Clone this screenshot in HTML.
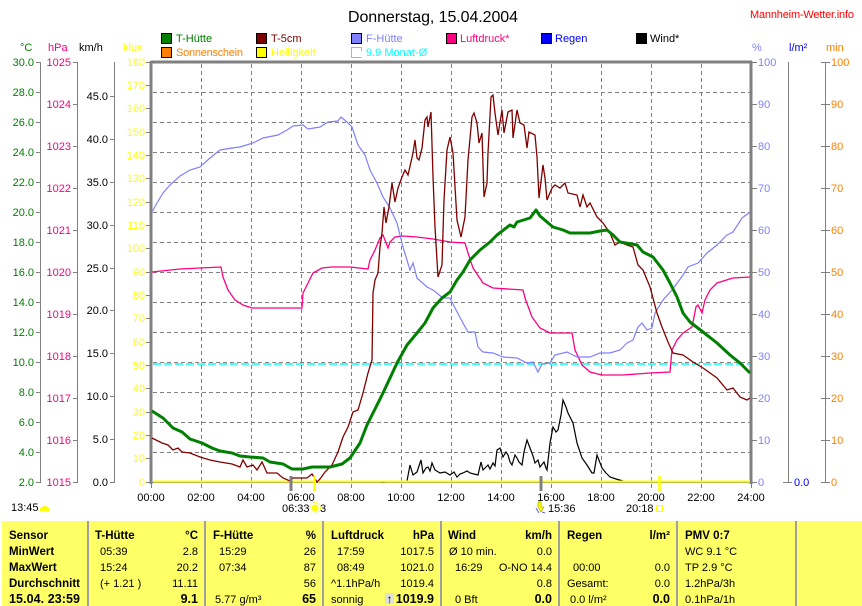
<!DOCTYPE html>
<html><head><meta charset="utf-8">
<style>
html,body{margin:0;padding:0;background:#fff;}
svg{display:block;}
text{font-family:"Liberation Sans",Arial,sans-serif;}
</style></head>
<body>
<svg width="862" height="606" viewBox="0 0 862 606" xmlns="http://www.w3.org/2000/svg">
<rect x="0" y="0" width="862" height="606" fill="#fff"/>

<!-- Title -->
<text x="348" y="22" font-size="16" fill="#000" textLength="170">Donnerstag, 15.04.2004</text>
<text x="750" y="18" font-size="11" fill="#ff0000" textLength="104">Mannheim-Wetter.info</text>

<!-- Legend -->
<g font-size="11">
<rect x="161.5" y="33.5" width="10" height="10" fill="#008000" stroke="#000"/>
<text x="176" y="42" fill="#008000">T-Hütte</text>
<rect x="256.5" y="33.5" width="10" height="10" fill="#800000" stroke="#000"/>
<text x="271" y="42" fill="#800000">T-5cm</text>
<rect x="351.5" y="33.5" width="10" height="10" fill="#8080ff" stroke="#000"/>
<text x="366" y="42" fill="#8080ff">F-Hütte</text>
<rect x="446.5" y="33.5" width="10" height="10" fill="#ff0080" stroke="#000"/>
<text x="460" y="42" fill="#ff0080">Luftdruck*</text>
<rect x="541.5" y="33.5" width="10" height="10" fill="#0000ff" stroke="#000"/>
<text x="555" y="42" fill="#0000ff">Regen</text>
<rect x="636.5" y="33.5" width="10" height="10" fill="#000" stroke="#000"/>
<text x="650" y="42" fill="#000">Wind*</text>
<rect x="161.5" y="47.5" width="10" height="10" fill="#ff8000" stroke="#000"/>
<text x="176" y="56" fill="#ff8000" textLength="67">Sonnenschein</text>
<rect x="256.5" y="47.5" width="10" height="10" fill="#ffff00" stroke="#000"/>
<text x="271" y="56" fill="#ffff00">Helligkeit</text>
<path d="M361.5 47.5 H351.5 V57.5 H361.5 M358 47.5 H361.5 V51" fill="none" stroke="#00ffff"/>
<text x="366" y="56" fill="#00ffff">9.9 Monat-Ø</text>
</g>

<!-- Axis titles -->
<g font-size="11">
<text x="20" y="51" fill="#008000">°C</text>
<text x="48" y="51" fill="#ff0080">hPa</text>
<text x="79" y="51" fill="#000">km/h</text>
<text x="123" y="51" fill="#ffff00">klux</text>
<text x="752" y="51" fill="#8080ff">%</text>
<text x="789" y="51" fill="#0000ff">l/m²</text>
<text x="826" y="51" fill="#ff8000">min</text>
</g>

<!-- Left axes lines -->
<g stroke="#808080" stroke-width="1" shape-rendering="crispEdges" fill="none">
<line x1="40.5" y1="62" x2="40.5" y2="483"/>
<line x1="77.5" y1="62" x2="77.5" y2="483"/>
<line x1="114.5" y1="62" x2="114.5" y2="483"/>
<line x1="788.5" y1="62" x2="788.5" y2="483"/>
<line x1="825.5" y1="62" x2="825.5" y2="483"/>
<!-- °C ticks -->
<path d="M36 62.5H40M36 92.5H40M36 122.5H40M36 152.5H40M36 182.5H40M36 212.5H40M36 242.5H40M36 272.5H40M36 302.5H40M36 332.5H40M36 362.5H40M36 392.5H40M36 422.5H40M36 452.5H40M36 482.5H40"/>
<!-- hPa ticks -->
<path d="M73 62.5H77M73 104.5H77M73 146.5H77M73 188.5H77M73 230.5H77M73 272.5H77M73 314.5H77M73 356.5H77M73 398.5H77M73 440.5H77M73 482.5H77"/>
<!-- km/h ticks -->
<path d="M110 96.5H114M110 139.5H114M110 182.5H114M110 225.5H114M110 268.5H114M110 310.5H114M110 353.5H114M110 396.5H114M110 439.5H114M110 482.5H114"/>
<!-- klux ticks -->
<path d="M146 62.5H151M146 85.5H151M146 108.5H151M146 132.5H151M146 155.5H151M146 178.5H151M146 202.5H151M146 225.5H151M146 248.5H151M146 272.5H151M146 295.5H151M146 318.5H151M146 342.5H151M146 365.5H151M146 388.5H151M146 412.5H151M146 435.5H151M146 458.5H151M146 482.5H151"/>
<!-- % ticks -->
<path d="M752 62.5H757M752 104.5H757M752 146.5H757M752 188.5H757M752 230.5H757M752 272.5H757M752 314.5H757M752 356.5H757M752 398.5H757M752 440.5H757M752 482.5H757"/>
<!-- l/m2 tick -->
<path d="M783 482.5H792"/>
<!-- min ticks -->
<path d="M821 62.5H830M821 104.5H830M821 146.5H830M821 188.5H830M821 230.5H830M821 272.5H830M821 314.5H830M821 356.5H830M821 398.5H830M821 440.5H830M821 482.5H830"/>
</g>

<!-- Left axis labels -->
<g font-size="11" text-anchor="end">
<g fill="#008000">
<text x="34" y="66">30.0</text><text x="34" y="96">28.0</text><text x="34" y="126">26.0</text><text x="34" y="156">24.0</text><text x="34" y="186">22.0</text><text x="34" y="216">20.0</text><text x="34" y="246">18.0</text><text x="34" y="276">16.0</text><text x="34" y="306">14.0</text><text x="34" y="336">12.0</text><text x="34" y="366">10.0</text><text x="34" y="396">8.0</text><text x="34" y="426">6.0</text><text x="34" y="456">4.0</text><text x="34" y="486">2.0</text>
</g>
<g fill="#ff0080">
<text x="71" y="66">1025</text><text x="71" y="108">1024</text><text x="71" y="150">1023</text><text x="71" y="192">1022</text><text x="71" y="234">1021</text><text x="71" y="276">1020</text><text x="71" y="318">1019</text><text x="71" y="360">1018</text><text x="71" y="402">1017</text><text x="71" y="444">1016</text><text x="71" y="486">1015</text>
</g>
<g fill="#000">
<text x="108" y="100">45.0</text><text x="108" y="143">40.0</text><text x="108" y="186">35.0</text><text x="108" y="229">30.0</text><text x="108" y="272">25.0</text><text x="108" y="314">20.0</text><text x="108" y="357">15.0</text><text x="108" y="400">10.0</text><text x="108" y="443">5.0</text><text x="108" y="486">0.0</text>
</g>
<g fill="#ffff00">
<text x="145" y="66">180</text><text x="145" y="89">170</text><text x="145" y="112">160</text><text x="145" y="136">150</text><text x="145" y="159">140</text><text x="145" y="182">130</text><text x="145" y="206">120</text><text x="145" y="229">110</text><text x="145" y="252">100</text><text x="145" y="276">90</text><text x="145" y="299">80</text><text x="145" y="322">70</text><text x="145" y="346">60</text><text x="145" y="369">50</text><text x="145" y="392">40</text><text x="145" y="416">30</text><text x="145" y="439">20</text><text x="145" y="462">10</text><text x="145" y="486">0</text>
</g>
</g>

<!-- Right axis labels -->
<g font-size="11">
<g fill="#8080ff">
<text x="758" y="66">100</text><text x="758" y="108">90</text><text x="758" y="150">80</text><text x="758" y="192">70</text><text x="758" y="234">60</text><text x="758" y="276">50</text><text x="758" y="318">40</text><text x="758" y="360">30</text><text x="758" y="402">20</text><text x="758" y="444">10</text><text x="758" y="486">0</text>
</g>
<text x="794" y="486" fill="#0000ff">0.0</text>
<g fill="#ff8000">
<text x="831" y="66">100</text><text x="831" y="108">90</text><text x="831" y="150">80</text><text x="831" y="192">70</text><text x="831" y="234">60</text><text x="831" y="276">50</text><text x="831" y="318">40</text><text x="831" y="360">30</text><text x="831" y="402">20</text><text x="831" y="444">10</text><text x="831" y="486">0</text>
</g>
</g>

<!-- Grid -->
<g stroke="#808080" stroke-width="1" stroke-dasharray="4,3" shape-rendering="crispEdges">
<path d="M153 92.5H750M153 122.5H750M153 152.5H750M153 182.5H750M153 212.5H750M153 242.5H750M153 272.5H750M153 302.5H750M153 332.5H750M153 362.5H750M153 392.5H750M153 422.5H750M153 452.5H750"/>
<path d="M201.5 64V488M251.5 64V488M301.5 64V488M351.5 64V488M401.5 64V488M451.5 64V488M501.5 64V488M551.5 64V488M601.5 64V488M651.5 64V488M701.5 64V488"/>
</g>
<g stroke="#808080" stroke-width="1" shape-rendering="crispEdges">
<path d="M151.5 482V488M751.5 482V488"/>
</g>

<!-- Frame -->
<g stroke="#808080" fill="none" shape-rendering="crispEdges">
<line x1="151" y1="62" x2="752" y2="62" stroke-width="3"/>
<line x1="151" y1="61" x2="151" y2="484" stroke-width="3"/>
<line x1="751" y1="61" x2="751" y2="484" stroke-width="3"/>
<line x1="151" y1="482.5" x2="752" y2="482.5" stroke-width="1"/>
</g>

<!-- Cyan month average -->
<line x1="153" y1="364" x2="750" y2="364" stroke="#00ffff" stroke-width="1.6" stroke-dasharray="8,3"/>

<!-- Luftdruck -->
<polyline fill="none" stroke="#ff0080" stroke-width="1.3" points="152,272 180,269 200,268 221,267 223,277 228,290 235,300 243,305 252,308 302,308 303,293 308,283 313,273 322,268 332,267 350,267 368,269 370,260 375,250 380,238 383,235 388,248 390,242 395,237 403,236 417,237 433,239 450,242 465,243 468,253 473,268 483,283 493,288 523,290 525,298 532,317 540,328 550,333 572,333 575,350 582,365 590,372 602,375 623,375 650,373 670,372 672,350 677,340 683,333 692,327 696,307 698,305 702,313 705,300 710,290 717,283 733,278 750,277"/>

<!-- F-Hütte -->
<polyline fill="none" stroke="#8080ff" stroke-width="1.2" points="152,212 157,203 163,193 170,185 180,176 190,170 200,167 210,158 220,150 232,148 240,147 253,143 263,138 278,135 287,130 293,126 303,125 308,129 320,127 328,122 338,121 341,117 347,122 352,127 358,145 365,155 370,170 377,183 383,197 390,208 397,223 403,247 410,270 413,263 417,278 427,287 433,290 443,298 450,298 455,308 463,323 468,332 475,332 478,347 483,352 493,353 503,357 517,358 527,363 533,362 538,372 542,364 550,363 555,355 567,352 577,357 590,357 600,353 610,353 620,350 627,343 633,340 638,327 642,323 647,330 652,328 655,313 663,300 672,290 678,282 683,275 688,267 698,263 707,253 717,245 727,235 733,232 742,218 750,212"/>

<!-- Wind -->
<polyline fill="none" stroke="#000" stroke-width="1.2" points="402,482 407,481 410,465 413,475 417,472 419,466 421,460 423,473 426,468 428,467 430,471 432,463 435,470 440,473 445,472 450,475 454,472 457,477 460,474 463,473 467,471 470,473 474,474 478,475 481,462 483,470 485,468 488,465 490,469 493,463 495,466 497,450 500,448 503,457 506,452 508,455 510,462 512,465 515,455 517,458 519,462 522,465 524,452 527,440 530,448 533,456 535,463 538,460 540,467 544,462 546,468 547,470 550,443 553,427 556,432 558,430 561,415 563,400 566,407 568,413 573,423 577,443 582,458 587,465 592,473 594,473 597,455 602,468 606,473 610,477 616,479 623,481 640,482"/>
<line x1="381" y1="482" x2="385" y2="482" stroke="#000" stroke-width="1.5"/>

<!-- Helligkeit -->
<line x1="153" y1="481.5" x2="750" y2="481.5" stroke="#ffff00" stroke-width="2"/>

<!-- T-5cm -->
<polyline fill="none" stroke="#800000" stroke-width="1.3" points="152,438 162,443 168,445 173,450 178,448 182,452 190,453 200,457 210,460 220,462 232,464 240,467 243,460 247,467 253,465 257,470 262,462 267,473 277,473 283,478 290,481 293,478 307,478 312,474 317,482 320,479 325,472 332,465 338,452 343,437 348,427 353,412 358,410 363,393 368,373 372,360 373,293 375,280 378,273 380,247 382,233 384,207 386,223 389,207 392,183 395,202 398,188 402,177 405,170 408,175 413,153 415,140 417,158 419,160 422,148 425,120 427,117 428,127 431,112 433,177 435,227 438,277 442,265 444,200 447,150 450,137 453,153 457,220 461,237 465,217 468,160 472,117 474,113 477,123 479,143 482,133 484,197 487,183 488,153 491,97 493,95 495,113 498,135 502,110 504,133 508,112 512,110 513,138 517,110 520,123 524,125 527,148 529,132 535,135 537,157 539,198 543,165 545,178 547,200 552,188 555,185 560,188 565,183 568,193 577,195 580,207 583,195 587,207 590,203 597,217 603,223 610,233 615,245 620,242 627,245 633,247 638,265 643,270 650,287 657,313 662,327 668,342 673,353 683,355 693,362 703,368 717,378 727,390 733,388 740,397 747,400 750,398"/>

<!-- T-Hütte -->
<polyline fill="none" stroke="#008000" stroke-width="3" stroke-linejoin="round" points="152,411 163,418 173,428 182,432 190,439 202,443 212,448 220,451 232,453 240,456 250,457 263,458 270,462 283,464 292,469 303,469 312,467 330,467 342,464 350,458 360,443 367,425 373,413 383,393 397,363 407,345 417,333 425,323 433,308 442,298 450,292 457,280 463,272 470,260 480,250 490,242 497,235 510,225 514,227 517,222 530,218 536,210 540,216 547,222 553,227 563,230 570,233 590,233 600,231 607,230 613,235 620,242 637,245 643,252 653,257 663,270 670,283 677,297 683,313 690,322 703,332 717,343 730,355 740,363 750,373"/>

<!-- Event ticks -->
<line x1="291" y1="476" x2="291" y2="491" stroke="#808080" stroke-width="3"/>
<line x1="541" y1="476" x2="541" y2="491" stroke="#808080" stroke-width="3"/>
<line x1="314.5" y1="476" x2="314.5" y2="491" stroke="#ffff00" stroke-width="2.5"/>
<line x1="659.5" y1="476" x2="659.5" y2="491" stroke="#ffff00" stroke-width="2.5"/>

<!-- X labels -->
<g font-size="11" fill="#000" text-anchor="middle">
<text x="151" y="501">00:00</text><text x="201" y="501">02:00</text><text x="251" y="501">04:00</text><text x="301" y="501">06:00</text><text x="351" y="501">08:00</text><text x="401" y="501">10:00</text><text x="451" y="501">12:00</text><text x="501" y="501">14:00</text><text x="551" y="501">16:00</text><text x="601" y="501">18:00</text><text x="651" y="501">20:00</text><text x="701" y="501">22:00</text><text x="751" y="501">24:00</text>
</g>
<g font-size="11" fill="#000">
<text x="282" y="512">06:33</text>
<circle cx="315" cy="508" r="3.5" fill="#ffff00"/>
<circle cx="315" cy="508" r="5.5" fill="none" stroke="#ffff00" stroke-width="1" stroke-dasharray="1.5,1.5"/>
<text x="320" y="512">3</text>
<text x="548" y="512">15:36</text>
<path d="M538 502 L541 502 L541 507 L544 507 L541 512 L538 507 Z" fill="#ffff00" stroke="#808000" stroke-width="0.5"/>
<path d="M536 508 L539 513 M542 512 L545 513" stroke="#6060c0" stroke-width="1"/>
<text x="626" y="512">20:18</text>
<rect x="656.5" y="505.5" width="6" height="6" fill="none" stroke="#ffff00"/>
<text x="11" y="511">13:45</text>
<path d="M40 511 L40 509 Q41 506 43 507 Q45 504 47 507 Q49 507 49 509 L49 511 Z" fill="#ffff00"/>
</g>

<!-- Table -->
<rect x="2" y="521" width="860" height="85" fill="#ffff66"/>
<g stroke="#a0a0a0" stroke-width="2">
<line x1="88" y1="521" x2="88" y2="606"/>
<line x1="205" y1="521" x2="205" y2="606"/>
<line x1="323" y1="521" x2="323" y2="606"/>
<line x1="441" y1="521" x2="441" y2="606"/>
<line x1="559" y1="521" x2="559" y2="606"/>
<line x1="677" y1="521" x2="677" y2="606"/>
<line x1="796" y1="521" x2="796" y2="606"/>
</g>
<g fill="#000">
<!-- col 1 -->
<g font-size="11.5" font-weight="bold">
<text x="9" y="539">Sensor</text>
<text x="9" y="555">MinWert</text>
<text x="9" y="571">MaxWert</text>
<text x="9" y="587" textLength="71">Durchschnitt</text>
</g>
<text x="9" y="603" font-size="12.5" font-weight="bold" textLength="71">15.04. 23:59</text>
<!-- headers -->
<g font-size="11.5" font-weight="bold">
<text x="95" y="539">T-Hütte</text>
<text x="198" y="539" text-anchor="end">°C</text>
<text x="213" y="539">F-Hütte</text>
<text x="316" y="539" text-anchor="end">%</text>
<text x="331" y="539">Luftdruck</text>
<text x="434" y="539" text-anchor="end">hPa</text>
<text x="448" y="539">Wind</text>
<text x="552" y="539" text-anchor="end">km/h</text>
<text x="567" y="539">Regen</text>
<text x="670" y="539" text-anchor="end">l/m²</text>
<text x="685" y="539">PMV 0:7</text>
</g>
<g font-size="11">
<!-- T-Hütte -->
<text x="100" y="555">05:39</text><text x="198" y="555" text-anchor="end">2.8</text>
<text x="100" y="571">15:24</text><text x="198" y="571" text-anchor="end">20.2</text>
<text x="100" y="587">(+ 1.21 )</text><text x="198" y="587" text-anchor="end">11.11</text>
<!-- F-Hütte -->
<text x="219" y="555">15:29</text><text x="316" y="555" text-anchor="end">26</text>
<text x="219" y="571">07:34</text><text x="316" y="571" text-anchor="end">87</text>
<text x="316" y="587" text-anchor="end">56</text>
<text x="215" y="603">5.77 g/m³</text>
<!-- Luftdruck -->
<text x="337" y="555">17:59</text><text x="434" y="555" text-anchor="end">1017.5</text>
<text x="337" y="571">08:49</text><text x="434" y="571" text-anchor="end">1021.0</text>
<text x="331" y="587">^1.1hPa/h</text><text x="434" y="587" text-anchor="end">1019.4</text>
<text x="331" y="603">sonnig</text>
<!-- Wind -->
<text x="449" y="555">Ø 10 min.</text><text x="552" y="555" text-anchor="end">0.0</text>
<text x="455" y="571">16:29</text><text x="552" y="571" text-anchor="end">O-NO 14.4</text>
<text x="552" y="587" text-anchor="end">0.8</text>
<text x="455" y="603">0 Bft</text>
<!-- Regen -->
<text x="573" y="571">00:00</text><text x="670" y="571" text-anchor="end">0.0</text>
<text x="567" y="587">Gesamt:</text><text x="670" y="587" text-anchor="end">0.0</text>
<text x="570" y="603">0.0 l/m²</text>
<!-- PMV -->
<text x="685" y="555">WC 9.1 °C</text>
<text x="685" y="571">TP 2.9 °C</text>
<text x="685" y="587">1.2hPa/3h</text>
<text x="685" y="603">0.1hPa/1h</text>
</g>
<rect x="385" y="593" width="9" height="11" fill="#e0e0e0"/>
<text x="389.5" y="603" font-size="12" font-weight="bold" text-anchor="middle">↑</text>
<g font-size="12.5" font-weight="bold" text-anchor="end">
<text x="198" y="603">9.1</text>
<text x="316" y="603">65</text>
<text x="434" y="603">1019.9</text>
<text x="552" y="603">0.0</text>
<text x="670" y="603">0.0</text>
</g>
</g>
</svg>
</body></html>
